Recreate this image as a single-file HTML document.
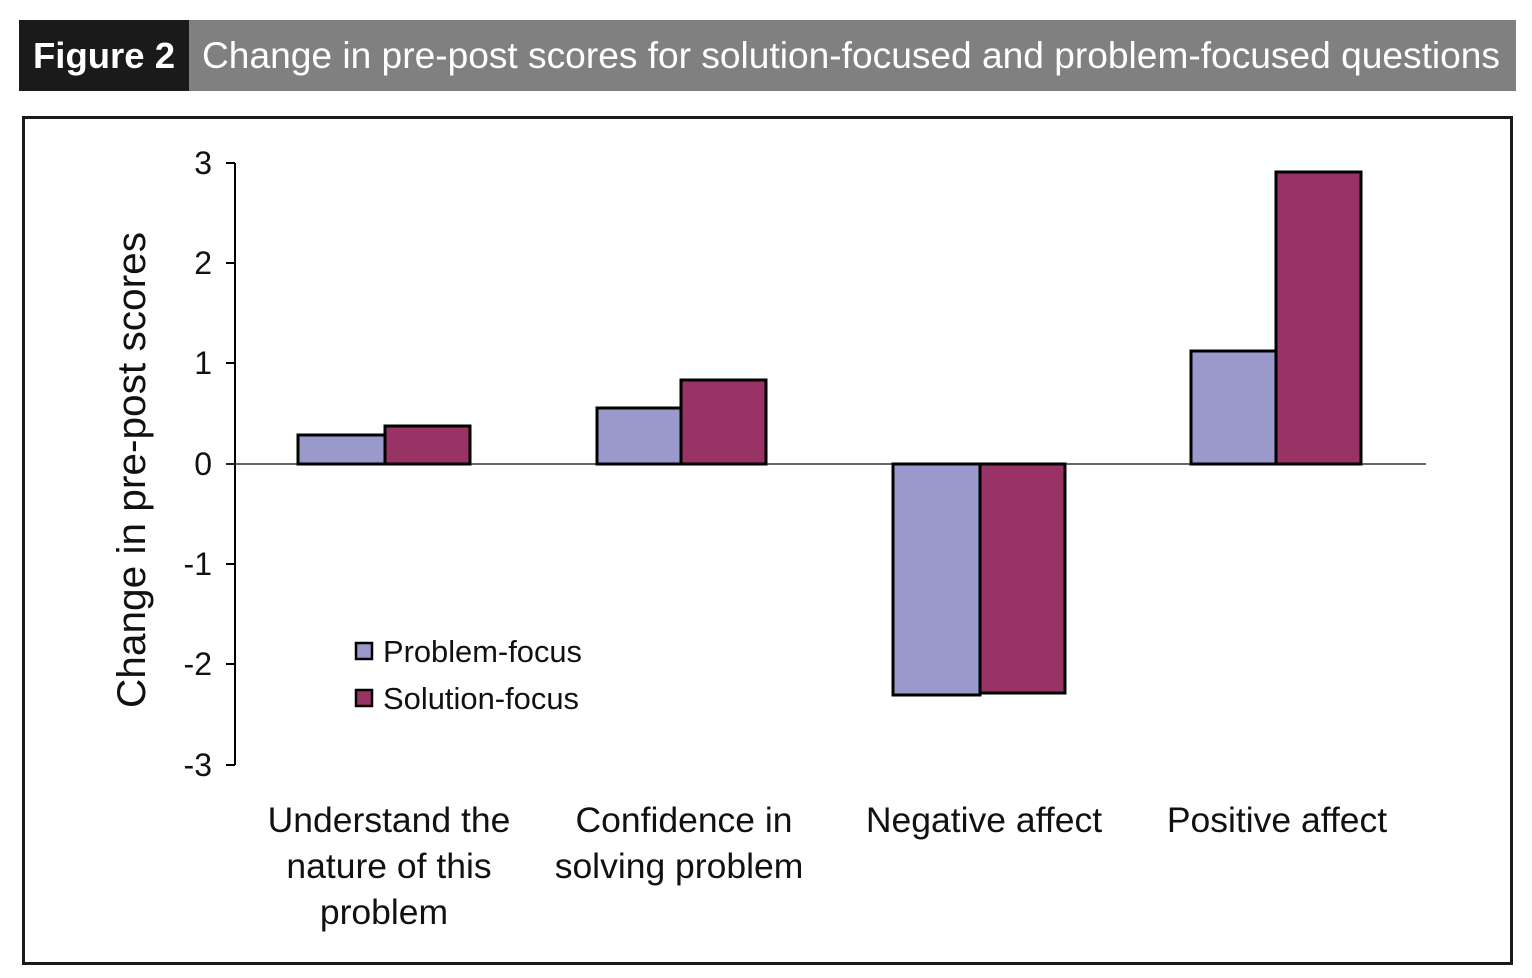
<!DOCTYPE html>
<html><head><meta charset="utf-8"><style>
body{margin:0;background:#fff;width:1532px;height:978px;overflow:hidden}
svg{display:block;font-family:"Liberation Sans",Arial,sans-serif}
</style></head><body>
<svg width="1532" height="978" viewBox="0 0 1532 978">
<rect x="19" y="20" width="1497" height="71" fill="#808080"/>
<rect x="19" y="20" width="170" height="71" fill="#1a1a1a"/>
<text x="33" y="68" font-size="36" font-weight="bold" fill="#fff" textLength="142" lengthAdjust="spacingAndGlyphs">Figure 2</text>
<text x="202" y="68" font-size="37" fill="#fff" textLength="1298" lengthAdjust="spacingAndGlyphs">Change in pre-post scores for solution-focused and problem-focused questions</text>
<rect x="23.5" y="117.5" width="1488" height="846" fill="none" stroke="#1a1a1a" stroke-width="3"/>
<g stroke="#000" stroke-width="2">
<line x1="235" y1="163" x2="235" y2="765"/>
<line x1="226" y1="163" x2="235" y2="163"/><line x1="226" y1="263" x2="235" y2="263"/>
<line x1="226" y1="363" x2="235" y2="363"/><line x1="226" y1="464" x2="235" y2="464"/>
<line x1="226" y1="564" x2="235" y2="564"/><line x1="226" y1="664" x2="235" y2="664"/>
<line x1="226" y1="765" x2="235" y2="765"/>
</g>
<line x1="226" y1="464" x2="1426" y2="464" stroke="#333" stroke-width="1.5"/>
<g font-size="32" text-anchor="end" fill="#111">
<text x="212" y="174">3</text><text x="212" y="274">2</text><text x="212" y="374">1</text>
<text x="212" y="475">0</text><text x="212" y="575">-1</text><text x="212" y="675">-2</text><text x="212" y="776">-3</text>
</g>
<text transform="translate(145,470) rotate(-90)" font-size="40" text-anchor="middle" fill="#111" textLength="476" lengthAdjust="spacingAndGlyphs">Change in pre-post scores</text>
<g stroke="#000" stroke-width="3">
<rect x="298" y="435" width="87" height="29" fill="#9999cc"/>
<rect x="385" y="426" width="85" height="38" fill="#993366"/>
<rect x="597" y="408" width="84" height="56" fill="#9999cc"/>
<rect x="681" y="380" width="85" height="84" fill="#993366"/>
<rect x="893" y="464" width="87" height="231" fill="#9999cc"/>
<rect x="980" y="464" width="85" height="229" fill="#993366"/>
<rect x="1191" y="351" width="85" height="113" fill="#9999cc"/>
<rect x="1276" y="172" width="85" height="292" fill="#993366"/>
<rect x="356" y="643" width="16" height="16" fill="#9999cc" stroke-width="2.5"/>
<rect x="356" y="690" width="16" height="16" fill="#993366" stroke-width="2.5"/>
</g>
<text x="383" y="662" font-size="31" fill="#111" textLength="199" lengthAdjust="spacingAndGlyphs">Problem-focus</text>
<text x="383" y="709" font-size="31" fill="#111" textLength="196" lengthAdjust="spacingAndGlyphs">Solution-focus</text>
<g font-size="35.5" text-anchor="middle" fill="#111">
<text x="389" y="832">Understand the</text><text x="389" y="878">nature of this</text><text x="384" y="924">problem</text>
<text x="684" y="832">Confidence in</text><text x="679" y="878">solving problem</text>
<text x="984" y="832">Negative affect</text>
<text x="1277" y="832">Positive affect</text>
</g>
</svg>
</body></html>
